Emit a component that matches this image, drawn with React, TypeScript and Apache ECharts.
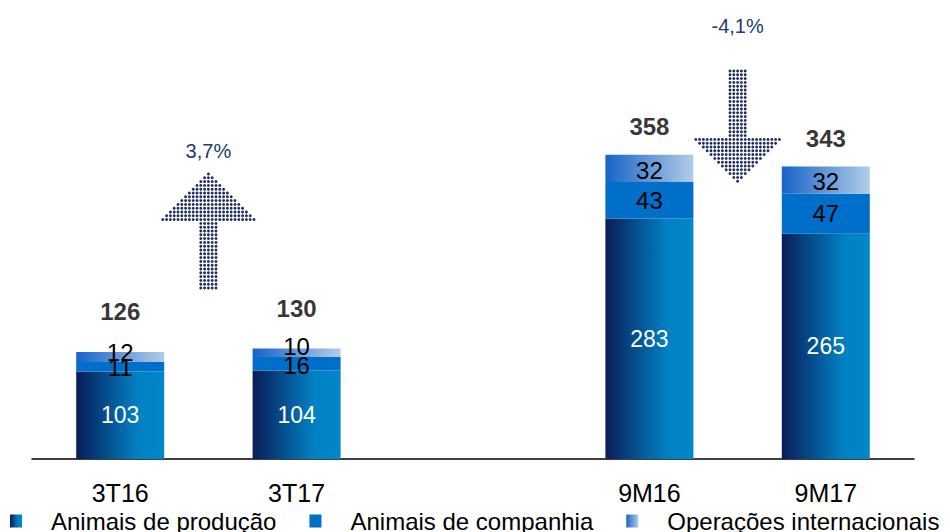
import React, { useEffect, useRef } from "react";
import * as echarts from "echarts";

const categories = ["3T16", "3T17", "", "9M16", "9M17"];
const producao = [103, 104, null, 283, 265];
const companhia = [11, 16, null, 43, 47];
const internacionais = [12, 10, null, 32, 32];
const totals = [126, 130, null, 358, 343];
const changes = ["3,7%", "-4,1%"];
const seriesNames = ["Animais de produção", "Animais de companhia", "Operações internacionais"];

const FONT = "'Liberation Sans', Arial, sans-serif";

// label nudges (styling only)
const midOffsets = [[0, 1], [0, 2], [0, 0], [0, 0], [0, 0]];
const topOffsets = [[0, -5], [0, -6], [0, 0], [0, 2], [0, 1]];
const totalDistances = [28, 28, 0, 16, 16];

function arrowDots(cx: number, top: number, headY: number, bottom: number, halfHead: number, halfShaft: number, up: boolean) {
  const s = 3.8;
  const r = 1.45;
  const out: any[] = [];
  for (let y = top; y <= bottom + 0.01; y += s) {
    for (let k = -20; k <= 20; k++) {
      const x = cx + k * s;
      const dx = Math.abs(x - cx);
      let inside = false;
      if (up) {
        if (y <= headY) inside = dx <= halfHead * (y - top) / (headY - top) + 0.01;
        else inside = dx <= halfShaft + 0.01;
      } else {
        if (y <= headY) inside = dx <= halfShaft + 0.01;
        else inside = dx <= halfHead * (bottom - y) / (bottom - headY) + 0.01;
      }
      if (inside) {
        out.push({ type: "circle", silent: true, shape: { cx: x, cy: y, r }, style: { fill: "#1f2b5b" } });
      }
    }
  }
  return out;
}

export default function App() {
  const ref = useRef<HTMLDivElement>(null);
  useEffect(() => {
    document.body.style.margin = "0";
    const chart = echarts.init(ref.current!, undefined, { renderer: "svg" });
    const bottomGrad = new echarts.graphic.LinearGradient(0, 0, 1, 0, [
      { offset: 0, color: "#0a1d58" },
      { offset: 0.7, color: "#0081c4" },
      { offset: 1, color: "#0088ca" },
    ]);
    const topGrad = new echarts.graphic.LinearGradient(0, 0, 1, 0, [
      { offset: 0, color: "#1664c8" },
      { offset: 1, color: "#b2cce8" },
    ]);
    const labelBase = { show: true, position: "inside", fontFamily: FONT, fontSize: 24, color: "#000" };
    chart.setOption({
      animation: false,
      grid: { left: 32, width: 882, top: 0, height: 459 },
      legend: {
        data: seriesNames,
        left: 10,
        top: 509,
        width: 940,
        padding: 0,
        itemWidth: 12,
        itemHeight: 13,
        itemGap: 33,
        icon: "rect",
        selectedMode: false,
        textStyle: { fontFamily: FONT, fontSize: 24, lineHeight: 22, color: "#000", padding: [0, 0, 0, 24] },
      },
      xAxis: {
        type: "category",
        data: categories,
        axisTick: { show: false },
        axisLine: { lineStyle: { color: "#000", width: 1.5 } },
        axisLabel: { fontFamily: FONT, fontSize: 25, lineHeight: 20, color: "#000", margin: 24 },
      },
      yAxis: { type: "value", min: 0, max: 540, show: false, splitLine: { show: false } },
      series: [
        {
          name: seriesNames[0],
          type: "bar",
          stack: "a",
          barWidth: 88,
          data: producao,
          itemStyle: { color: bottomGrad },
          label: { ...labelBase, color: "#fff", fontSize: 23 },
        },
        {
          name: seriesNames[1],
          type: "bar",
          stack: "a",
          barWidth: 88,
          data: companhia.map((v, i) => ({ value: v, label: { offset: midOffsets[i] } })),
          itemStyle: { color: "#006fca" },
          label: labelBase,
        },
        {
          name: seriesNames[2],
          type: "bar",
          stack: "a",
          barWidth: 88,
          data: internacionais.map((v, i) => ({ value: v, label: { offset: topOffsets[i] } })),
          itemStyle: { color: topGrad },
          label: labelBase,
        },
        {
          name: "Total",
          type: "scatter",
          symbolSize: 1,
          silent: true,
          itemStyle: { color: "rgba(0,0,0,0)" },
          data: totals.map((v, i) => ({ value: v, label: { distance: totalDistances[i] } })),
          label: { show: true, position: "top", fontFamily: FONT, fontSize: 24, fontWeight: "bold", color: "#000" },
        },
      ],
    });

    const x1 = (chart.convertToPixel({ xAxisIndex: 0 }, categories[0]) + chart.convertToPixel({ xAxisIndex: 0 }, categories[1])) / 2;
    const x2 = (chart.convertToPixel({ xAxisIndex: 0 }, categories[3]) + chart.convertToPixel({ xAxisIndex: 0 }, categories[4])) / 2;

    chart.setOption({
      graphic: [
        ...arrowDots(x1, 174, 220, 288, 46.5, 10, true),
        ...arrowDots(x2, 71, 137, 184, 47.5, 10, false),
        {
          type: "text",
          x: x1,
          y: 151,
          style: { text: changes[0], fontFamily: FONT, fontSize: 20, fill: "#203a73", align: "center", verticalAlign: "middle" },
        },
        {
          type: "text",
          x: x2,
          y: 26,
          style: { text: changes[1], fontFamily: FONT, fontSize: 20, fill: "#203a73", align: "center", verticalAlign: "middle" },
        },
      ],
    });
    return () => chart.dispose();
  }, []);
  return <div ref={ref} style={{ position: "absolute", left: 0, top: 0, width: 950, height: 532 }} />;
}
